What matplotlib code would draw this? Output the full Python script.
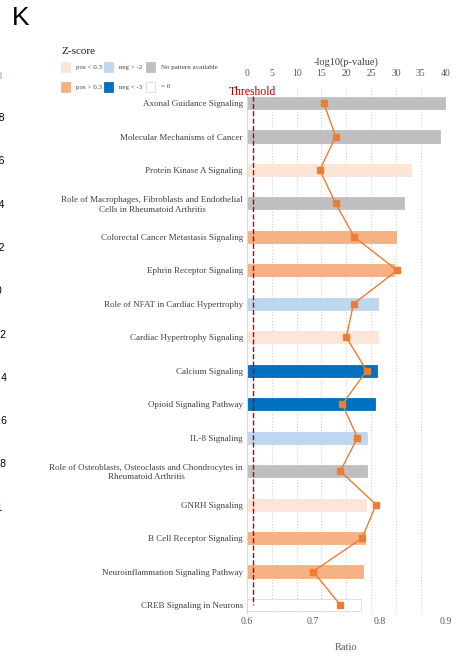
import matplotlib.pyplot as plt
from matplotlib.patches import Rectangle

pathways = [
    "Axonal Guidance Signaling",
    "Molecular Mechanisms of Cancer",
    "Protein Kinase A Signaling",
    "Role of Macrophages, Fibroblasts and Endothelial\nCells in Rheumatoid Arthritis",
    "Colorectal Cancer Metastasis Signaling",
    "Ephrin Receptor Signaling",
    "Role of NFAT in Cardiac Hypertrophy",
    "Cardiac Hypertrophy Signaling",
    "Calcium Signaling",
    "Opioid Signaling Pathway",
    "IL-8 Signaling",
    "Role of Osteoblasts, Osteoclasts and Chondrocytes in\nRheumatoid Arthritis",
    "GNRH Signaling",
    "B Cell Receptor Signaling",
    "Neuroinflammation Signaling Pathway",
    "CREB Signaling in Neurons",
]
neg_log_p = [40.0, 38.8, 33.1, 31.7, 30.0, 29.7, 26.3, 26.3,
             26.2, 25.7, 24.2, 24.2, 24.0, 23.7, 23.3, 23.0]
ratio = [0.716, 0.734, 0.710, 0.734, 0.762, 0.827, 0.761, 0.750,
         0.781, 0.744, 0.767, 0.741, 0.795, 0.774, 0.700, 0.741]
z_group = ["none", "none", "pos_low", "none", "pos_high", "pos_high",
           "neg_low", "pos_low", "neg_high", "neg_high", "neg_low", "none",
           "pos_low", "pos_high", "pos_high", "zero"]
threshold = 1.3

z_colors = {
    "pos_low": "#FBE5D6",
    "pos_high": "#F4B183",
    "neg_low": "#BDD7EE",
    "neg_high": "#0070C0",
    "none": "#BFBFBF",
    "zero": "#FFFFFF",
}
legend_rows = [
    [("pos_low", "pos < 0.3"), ("neg_low", "neg > -2"), ("none", "No pattern available")],
    [("pos_high", "pos > 0.3"), ("neg_high", "neg < -3"), ("zero", "= 0")],
]
side_labels = ["0.8", "0.6", "0.4", "0.2", "0", "-0.2", "-0.4", "-0.6", "-0.8", "-1"]

W, H = 462, 663
serif = "Liberation Serif"
grey_txt = "#595959"

fig = plt.figure(figsize=(W / 100, H / 100), dpi=100)
ax = fig.add_axes([247 / W, (H - 613) / H, 198.5 / W, 525 / H])
ax2 = ax.twiny()

y = list(range(len(pathways)))
bar_colors = [z_colors[g] for g in z_group]
edge_colors = ["#D9D9D9" if g == "zero" else c for g, c in zip(z_group, bar_colors)]
ax.barh(y, neg_log_p, height=0.36, color=bar_colors, edgecolor=edge_colors,
        linewidth=0.6, zorder=2)
ax.set_xlim(0, 40)
ax.set_ylim(15.24, -0.45)
ax.xaxis.tick_top()
ax.xaxis.set_label_position("top")
ax.set_xticks(range(0, 41, 5))
ax.set_xlabel("-log10(p-value)", fontsize=7.5, family=serif, color="#404040", labelpad=3)
ax.tick_params(axis="x", length=0, pad=7, labelsize=7, labelcolor=grey_txt)
ax.set_yticks(y)
ax.set_yticklabels(pathways, fontsize=6.5, family=serif, color="#404040",
                   multialignment="center")
ax.tick_params(axis="y", length=0, pad=3)
for lab in ax.get_xticklabels():
    lab.set_family(serif)
ax.grid(axis="x", linestyle=":", color="#D0D0D0", linewidth=0.8, zorder=0)
ax.set_axisbelow(True)
ax.vlines(threshold, y[0] - 0.2, y[-1], colors="#C00000", linestyles="--",
          linewidth=1, zorder=3)
for s in ["top", "right", "bottom"]:
    ax.spines[s].set_visible(False)
ax.spines["left"].set_color("#D9D9D9")

ax2.plot(ratio, y, color="#ED7D31", linewidth=1, marker="s", markersize=4,
         zorder=4)
ax2.set_xlim(0.6, 0.9)
ax2.xaxis.tick_bottom()
ax2.xaxis.set_label_position("bottom")
ax2.set_xticks([0.6, 0.7, 0.8, 0.9])
ax2.tick_params(axis="x", length=0, pad=3, labelsize=7, labelcolor=grey_txt)
for lab in ax2.get_xticklabels():
    lab.set_family(serif)
ax2.set_xlabel("Ratio", fontsize=7.5, family=serif, color=grey_txt, labelpad=12)
for s in ax2.spines.values():
    s.set_visible(False)

# overlay in pixel coordinates for legend and panel text
ov = fig.add_axes([0, 0, 1, 1])
ov.set_xlim(0, W)
ov.set_ylim(H, 0)
ov.axis("off")

ov.text(12, 18, "K", fontsize=19, family="Liberation Sans", va="center", ha="left")
ov.text(252, 92, "Threshold", fontsize=8.5, family=serif, color="#C00000",
        ha="center", va="center")

ov.text(61, 51, "Z-score", fontsize=8, family=serif, color="#202020",
        ha="left", va="center")
col_x = [61, 104, 146]
row_y = [67, 87]
for r, row in enumerate(legend_rows):
    for c, (key, txt) in enumerate(row):
        ov.add_patch(Rectangle((col_x[c], row_y[r] - 5), 9, 10,
                               facecolor=z_colors[key],
                               edgecolor="#D9D9D9" if key == "zero" else z_colors[key],
                               linewidth=0.6))
        ov.text(col_x[c] + 15, row_y[r], txt, fontsize=5, family=serif,
                color="#404040", ha="left", va="center")

# clipped tick labels of the neighbouring panel
ov.add_patch(Rectangle((0, 72), 2, 7, facecolor="#BDD7EE", edgecolor="none"))
for i, lab in enumerate(side_labels):
    ov.text(-2, 118 + i * 43.3, lab, fontsize=7.5, family="Liberation Sans",
            ha="center", va="center", clip_on=False)

fig.savefig("out.png", dpi=100)
